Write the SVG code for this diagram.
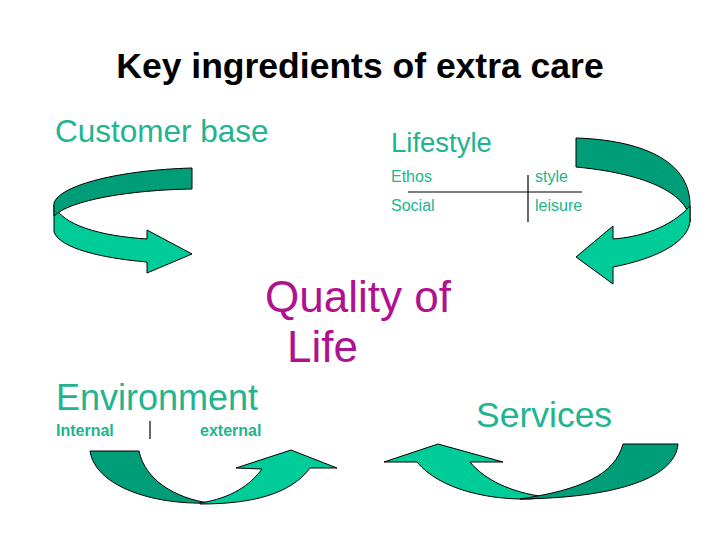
<svg xmlns="http://www.w3.org/2000/svg" width="720" height="540" viewBox="0 0 720 540">
<style>
text{font-family:"Liberation Sans",Arial,sans-serif}
.t{fill:#22b48e}
.q{fill:#b0128f}
.dk{fill:#009e78;stroke:#000;stroke-width:1;stroke-linejoin:round}
.lt{fill:#00cc99;stroke:#000;stroke-width:1;stroke-linejoin:round}
.ln{stroke:#000;stroke-width:1.2;fill:none}
</style>
<rect width="720" height="540" fill="#fff"/>
<text x="360" y="78" font-size="35.5" font-weight="bold" text-anchor="middle">Key ingredients of extra care</text>
<g id="customer"><text class="t" x="55" y="142" font-size="31.5">Customer base</text></g>
<g id="lifestyle">
<text class="t" x="391" y="152" font-size="27.5">Lifestyle</text>
<text class="t" x="391" y="182" font-size="16">Ethos</text>
<text class="t" x="535" y="182" font-size="16">style</text>
<text class="t" x="391" y="211" font-size="16">Social</text>
<text class="t" x="535" y="211" font-size="16">leisure</text>
<line class="ln" x1="408" y1="192" x2="582" y2="192"/>
<line class="ln" x1="528" y1="175" x2="528" y2="222"/>
</g>
<g id="quality">
<text class="q" x="265" y="312" font-size="44">Quality of</text>
<text class="q" x="287" y="362" font-size="44">Life</text>
</g>
<g id="environment">
<text class="t" x="56" y="410" font-size="36">Environment</text>
<text class="t" x="56" y="436" font-size="16" font-weight="bold">Internal</text>
<text class="t" x="200" y="436" font-size="16" font-weight="bold">external</text>
<line class="ln" x1="150" y1="421" x2="150" y2="439"/>
</g>
<g id="services"><text class="t" x="476" y="427" font-size="35.5">Services</text></g>
<g id="connectors">
<path class="lt" d="M54,205 L54,232 C60,248 100,258 147,262 L147,273 L192,254 L147,230 L147,239 C100,236 62,225 54,205 Z"/>
<path class="dk" d="M192,168 C120,170 60,185 54,203 L54,216 C70,200 130,190 192,189 Z"/>
<path class="dk" d="M576,138 C640,140 690,160 690,205 L690,222 C690,200 660,175 576,167 Z"/>
<path class="lt" d="M690,206 C670,228 640,237 613,239 L613,226 L576,257 L613,284 L613,267 C660,258 690,240 690,220 Z"/>
<path class="dk" d="M90,451 L139,451 C145,480 175,498 209,503 C150,505 95,485 90,451 Z"/>
<path class="lt" d="M200,503 C232,498 250,485 262,469 L236,468 L291,450 L337,468 L310,468 C290,495 250,504 200,504 Z"/>
<path class="lt" d="M417,462 C440,490 490,500 530,499 L545,497 C510,492 485,480 470,462 L503,462 L438,444 L384,462 Z"/>
<path class="dk" d="M623,444 L678,444 C675,480 610,498 520,499 C580,490 615,475 623,444 Z"/>
</g>
</svg>
